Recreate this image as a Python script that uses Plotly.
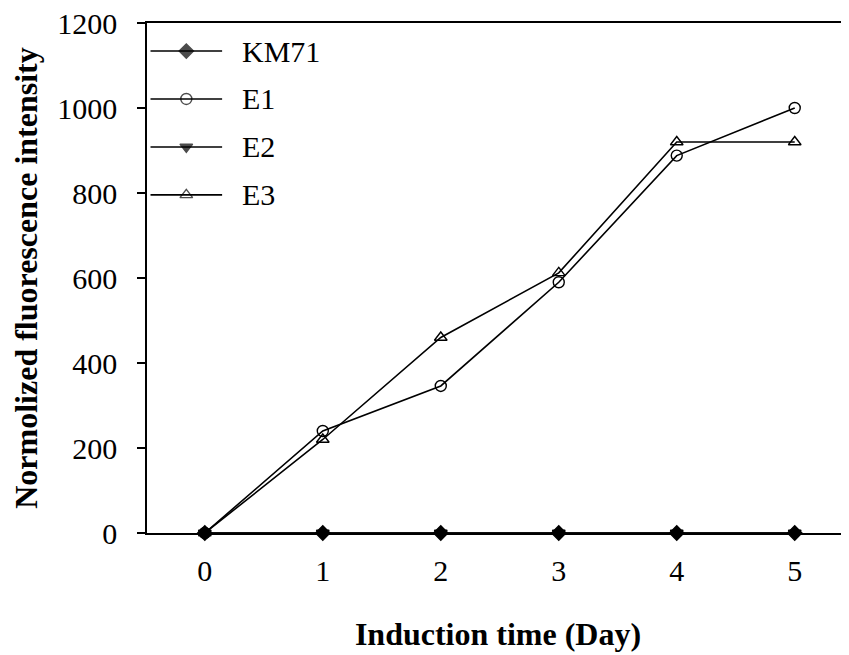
import plotly.graph_objects as go

days = [0, 1, 2, 3, 4, 5]
km71 = [0, 0, 0, 0, 0, 0]
e1 = [0, 240, 346, 590, 888, 1000]
e2 = [0, 0, 0, 0, 0, 0]
e3 = [0, 220, 460, 612, 920, 920]

series_names = ["KM71", "E1", "E2", "E3"]
series_values = [km71, e1, e2, e3]
symbols = ["diamond", "circle-open", "triangle-down", "triangle-up-open"]
y_ticks = [0, 200, 400, 600, 800, 1000, 1200]

FONT = "Liberation Serif, Times New Roman, serif"

fig = go.Figure()
for name, vals, sym in zip(series_names, series_values, symbols):
    fig.add_trace(go.Scatter(
        x=days, y=vals, mode="lines+markers", name=name,
        line=dict(color="black", width=1.6),
        marker=dict(symbol=sym, size=11, color="black",
                    line=dict(color="black", width=1.4)),
        cliponaxis=False, showlegend=False,
    ))

# custom legend (line + centred marker) on a helper axis
leg_y = [0.945, 0.851, 0.757, 0.663]
for name, sym, ly in zip(series_names, symbols, leg_y):
    fig.add_trace(go.Scatter(
        x=[0.005, 0.056, 0.107], y=[ly, ly, ly], mode="lines+markers",
        xaxis="x2", yaxis="y2",
        line=dict(color="black", width=1.6),
        marker=dict(symbol=sym, size=[0, 11, 0], color="black",
                    line=dict(color="black", width=1.4)),
        showlegend=False, hoverinfo="skip", cliponaxis=False,
    ))
    fig.add_annotation(x=0.132, y=ly, xref="x2", yref="y2", text=name,
                       showarrow=False, xanchor="left", yanchor="middle",
                       font=dict(family=FONT, size=30, color="black"))

fig.update_layout(
    width=841, height=647,
    margin=dict(l=139, r=0, t=15, b=122, autoexpand=False),
    paper_bgcolor="white", plot_bgcolor="white",
    font=dict(family=FONT, size=30, color="black"),
    xaxis=dict(range=[-0.49, 5.46], tickvals=days, ticks="", showgrid=False,
               zeroline=False, showline=True, linecolor="black", linewidth=1.6,
               tickfont=dict(size=30), ticklabelstandoff=10, automargin=False,
               ticklabeloverflow="allow",
               title=dict(text="<b>Induction time (Day)</b>", font=dict(size=32), standoff=37)),
    yaxis=dict(range=[0, 1200], tickvals=y_ticks, ticks="outside", ticklen=8,
               tickwidth=1.6, tickcolor="black", showgrid=False, zeroline=False,
               showline=True, linecolor="black", linewidth=1.6, automargin=False,
               tickfont=dict(size=30), ticklabelstandoff=14, ticklabeloverflow="allow",
               title=dict(text="<b>Normolized fluorescence intensity</b>", font=dict(size=32), standoff=24)),
    xaxis2=dict(range=[0, 1], overlaying="x", side="top", visible=True, showline=True,
                linecolor="black", linewidth=1.6, showticklabels=False, ticks="",
                showgrid=False, zeroline=False, fixedrange=True, automargin=False),
    yaxis2=dict(range=[0, 1], overlaying="y", visible=False, fixedrange=True),
)

fig.write_html("out.html")
